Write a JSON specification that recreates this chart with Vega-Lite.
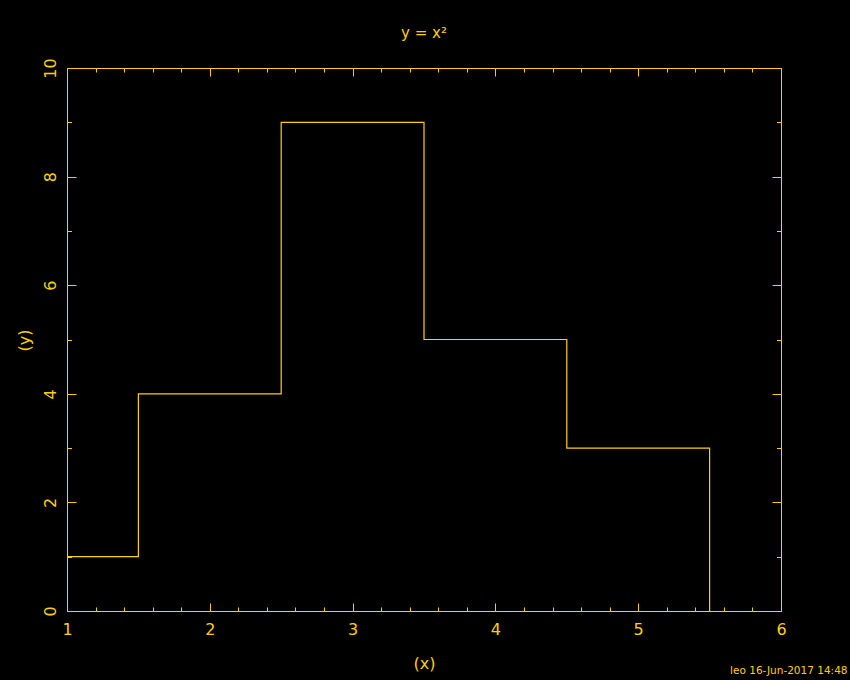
{
  "$schema": "https://vega.github.io/schema/vega-lite/v6.json",
  "autosize": "none",
  "width": 714,
  "height": 543,
  "padding": {"left": 67, "top": 68, "right": 69, "bottom": 69},
  "background": "#000000",
  "title": {
    "text": "y = x²",
    "color": "#ffd000",
    "font": "DejaVu Sans",
    "fontSize": 15,
    "fontWeight": "normal",
    "anchor": "middle",
    "baseline": "alphabetic",
    "offset": 5
  },
  "config": {
    "view": {"stroke": null},
    "axis": {
      "grid": false,
      "domainColor": "#ffd000",
      "domainWidth": 1,
      "tickColor": "#ffd000",
      "tickWidth": 1,
      "labelColor": "#ffd000",
      "titleColor": "#ffd000",
      "labelFont": "DejaVu Sans",
      "titleFont": "DejaVu Sans",
      "labelFontSize": 16,
      "titleFontSize": 16,
      "titleFontWeight": "normal",
      "labelOverlap": false,
      "labelFlush": false
    }
  },
  "data": {
    "values": [
      {"x": 1, "y": 1},
      {"x": 1.5, "y": 4},
      {"x": 2.5, "y": 9},
      {"x": 3.5, "y": 5},
      {"x": 4.5, "y": 3},
      {"x": 5.5, "y": 0}
    ]
  },
  "layer": [
    {
      "mark": {"type": "line", "interpolate": "step-after", "color": "#ffd000", "strokeWidth": 1.2, "clip": true},
      "encoding": {
        "x": {
          "field": "x", "type": "quantitative",
          "scale": {"domain": [1, 6], "nice": false, "zero": false},
          "axis": {
            "orient": "bottom",
            "title": "(x)",
            "titleX": 357,
            "titleY": 57,
            "titleBaseline": "alphabetic",
            "values": [1, 1.2, 1.4, 1.6, 1.8, 2, 2.2, 2.4, 2.6, 2.8, 3, 3.2, 3.4, 3.6, 3.8, 4, 4.2, 4.4, 4.6, 4.8, 5, 5.2, 5.4, 5.6, 5.8, 6],
            "labelExpr": "abs(datum.value - round(datum.value)) < 0.001 ? format(datum.value, 'd') : ''",
            "tickSize": {"condition": {"test": "abs(datum.value - round(datum.value)) < 0.001", "value": -8}, "value": -4},
            "labelPadding": 18
          }
        },
        "y": {
          "field": "y", "type": "quantitative",
          "scale": {"domain": [0, 10], "nice": false},
          "axis": {
            "orient": "left",
            "title": "(y)",
            "titleAngle": -90,
            "titleX": -38,
            "titleY": 272,
            "titleAlign": "center",
            "titleBaseline": "alphabetic",
            "values": [0, 1, 2, 3, 4, 5, 6, 7, 8, 9, 10],
            "labelExpr": "datum.value % 2 === 0 ? datum.label : ''",
            "labelAngle": -90,
            "labelAlign": "center",
            "labelBaseline": "bottom",
            "tickSize": {"condition": {"test": "datum.value % 2 === 0", "value": -9}, "value": -4.5},
            "labelPadding": 18
          }
        }
      }
    },
    {
      "mark": {"type": "line", "opacity": 0},
      "encoding": {
        "x": {
          "field": "x", "type": "quantitative",
          "axis": {
            "orient": "top",
            "title": null,
            "labels": false,
            "values": [1, 1.2, 1.4, 1.6, 1.8, 2, 2.2, 2.4, 2.6, 2.8, 3, 3.2, 3.4, 3.6, 3.8, 4, 4.2, 4.4, 4.6, 4.8, 5, 5.2, 5.4, 5.6, 5.8, 6],
            "tickSize": {"condition": {"test": "abs(datum.value - round(datum.value)) < 0.001", "value": -8}, "value": -4}
          }
        },
        "y": {
          "field": "y", "type": "quantitative",
          "axis": {
            "orient": "right",
            "title": "leo 16-Jun-2017 14:48",
            "titleFontSize": 10.5,
            "titleAngle": 0,
            "titleAlign": "right",
            "titleBaseline": "alphabetic",
            "titleX": 66,
            "titleY": 605,
            "labels": false,
            "values": [0, 1, 2, 3, 4, 5, 6, 7, 8, 9, 10],
            "tickSize": {"condition": {"test": "datum.value % 2 === 0", "value": -9}, "value": -4.5}
          }
        }
      }
    }
  ],
  "resolve": {"axis": {"x": "independent", "y": "independent"}}
}
